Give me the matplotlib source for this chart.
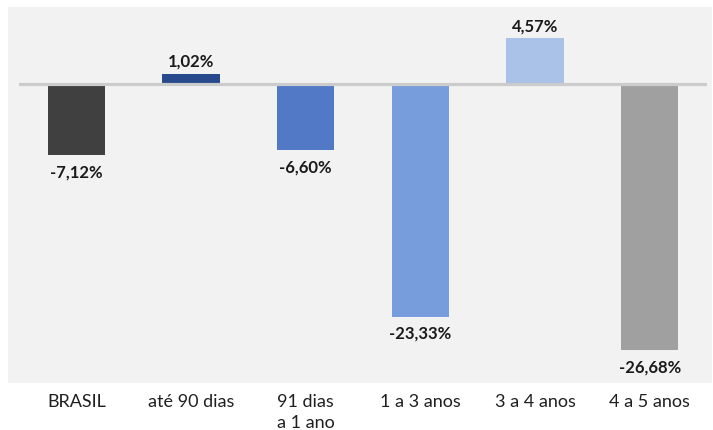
import matplotlib
matplotlib.use("Agg")
import matplotlib.pyplot as plt

categories = ["BRASIL", "até 90 dias", "91 dias\na 1 ano", "1 a 3 anos", "3 a 4 anos", "4 a 5 anos"]
values = [-7.12, 1.02, -6.60, -23.33, 4.57, -26.68]
labels = ["-7,12%", "1,02%", "-6,60%", "-23,33%", "4,57%", "-26,68%"]
colors = ["#404040", "#264a8c", "#5179c6", "#789ddc", "#abc2e8", "#a0a0a0"]

plt.rcParams["font.family"] = ["Lato", "DejaVu Sans"]

W, H = 713, 430
fig = plt.figure(figsize=(W / 100, H / 100), dpi=100)
fig.patch.set_facecolor("white")

# light grey panel behind the chart
bg = fig.add_axes([8 / W, 1 - 383 / H, (712 - 8) / W, (383 - 7) / H], zorder=-1)
bg.set_facecolor("#f2f2f2")
bg.set_xticks([])
bg.set_yticks([])
for s in bg.spines.values():
    s.set_visible(False)

ax = fig.add_axes([19 / W, 1 - 383 / H, (707 - 19) / W, (383 - 7) / H])
ax.set_facecolor("none")
x = list(range(len(categories)))
ax.bar(x, values, width=0.5, color=colors, zorder=2)
ax.axhline(0, color="#cccccc", lw=2.3, zorder=3)

ax.set_xlim(-0.5, len(categories) - 0.5)
ax.set_ylim(-30.0, 7.72)
for s in ax.spines.values():
    s.set_visible(False)
ax.set_yticks([])
ax.set_xticks(x)
ax.set_xticklabels(categories, fontsize=13, color="#1f1f1f", linespacing=1.35)
ax.tick_params(axis="x", length=0, pad=8)

for xi, v, lab in zip(x, values, labels):
    off = 8.5 if v >= 0 else -12.5
    ax.annotate(lab, (xi, v), xytext=(0, off), textcoords="offset points",
                ha="center", va="center", fontsize=12, fontweight="bold",
                color="#1a1a1a", zorder=4)

fig.savefig("out.png", dpi=100, facecolor="white")
